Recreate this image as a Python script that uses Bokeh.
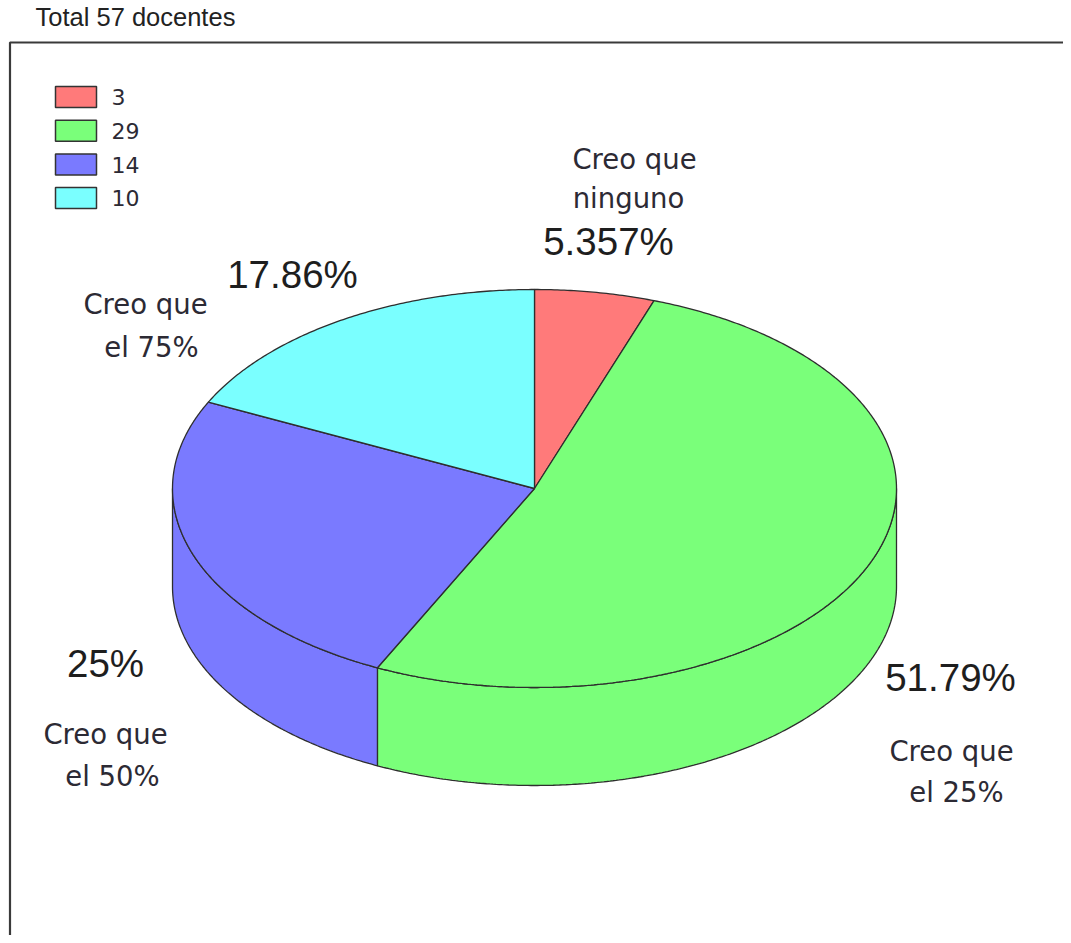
import numpy as np
from bokeh.plotting import figure
from bokeh.models import Range1d
from bokeh.embed import file_html
from bokeh.resources import INLINE
from bokeh.core.properties import value

# ---- data ----
title = "Total 57 docentes"
categories = ["Creo que\nninguno", "Creo que\nel 25%", "Creo que\nel 50%", "Creo que\nel 75%"]
counts = [3, 29, 14, 10]
colors = ["#FF7A7A", "#7AFF7A", "#7A7AFF", "#7AFFFF"]

# ---- layout ----
W, H = 1063, 935
X0, Y0 = 0, 0
p = figure(width=W, height=H, x_range=Range1d(X0, X0 + W), y_range=Range1d(Y0 + H, Y0),
           output_backend="svg", toolbar_location=None, min_border=0)
p.axis.visible = False
p.grid.visible = False
p.outline_line_color = None
p.background_fill_color = "white"

def by(baseline, size):
    # compensate the renderer's baseline placement
    return baseline - 0.42 * size

# frame
p.line([9.5, 9.5, 1200], [1100, 42, 42], line_color="#3a3a3a", line_width=2.2)

# title
TS = 25.5
p.text(x=[35], y=[by(27, TS)], text=[title], text_font=value("Liberation Sans"), text_font_size=f"{TS}px",
       text_align="left", text_baseline="alphabetic", text_color="#222222")

# pie geometry
cx, cy, rx, ry, depth = 534.0, 488.0, 362.0, 199.0, 98.0
total = float(sum(counts))
fracs = [c / total for c in counts]

def pt(theta_deg, dy=0.0):
    t = np.radians(theta_deg)
    return cx + rx * np.cos(t), cy - ry * np.sin(t) + dy

starts, ends = [], []
a = 90.0
for f in fracs:
    starts.append(a)
    a = a - f * 360.0
    ends.append(a)

# side faces (front half: angles in [-180, 0])
for s, e, col in zip(starts, ends, colors):
    for k in (-360.0, 0.0, 360.0):
        lo = max(e + k, -180.0)
        hi = min(s + k, 0.0)
        if hi > lo + 1e-6:
            th = np.linspace(lo, hi, max(3, int((hi - lo) * 2)))
            xt, yt = pt(th)
            xb, yb = pt(th[::-1], depth)
            xs = np.concatenate([xt, xb])
            ys = np.concatenate([yt, yb])
            p.patch(xs, ys, fill_color=col, line_color="#2e2e2e", line_width=1.3)

# top faces
for s, e, col in zip(starts, ends, colors):
    th = np.linspace(s, e, max(3, int((s - e) * 2)))
    xa, ya = pt(th)
    xs = np.concatenate([[cx], xa, [cx]])
    ys = np.concatenate([[cy], ya, [cy]])
    p.patch(xs, ys, fill_color=col, line_color="#2e2e2e", line_width=1.3)

# labels
pct_text = [f"{f*100:.4g}%" for f in fracs]
pct_pos = [(608, 257), (950, 693), (105, 679), (292, 290)]
cat_pos = [[(634, 170), (628, 209)], [(951, 762), (956, 803)],
           [(105, 745), (112, 787)], [(145, 315), (151, 358)]]

PS = 38.5
p.text(x=[q[0] for q in pct_pos], y=[by(q[1], PS) for q in pct_pos], text=pct_text,
       text_font=value("Liberation Sans"), text_font_size=f"{PS}px",
       text_align="center", text_baseline="alphabetic", text_color="#1e1e1e")

CS = 27.5
cx_l, cy_l, ct_l = [], [], []
for cat, lines_pos in zip(categories, cat_pos):
    for line, (lx, ly) in zip(cat.split("\n"), lines_pos):
        cx_l.append(lx); cy_l.append(by(ly, CS)); ct_l.append(line)
p.text(x=cx_l, y=cy_l, text=ct_l, text_font=value("DejaVu Sans"), text_font_size=f"{CS}px",
       text_align="center", text_baseline="alphabetic", text_color="#2c2a34")

# legend
LS = 22
box_tops = [86 + i * 33.7 for i in range(len(counts))]
p.quad(left=[55] * len(counts), right=[96] * len(counts), top=box_tops,
       bottom=[t + 21 for t in box_tops], fill_color=colors, line_color="#333333", line_width=1.5)
p.text(x=[111] * len(counts), y=[by(t + 20, LS) for t in box_tops], text=[str(c) for c in counts],
       text_font=value("DejaVu Sans"), text_font_size=f"{LS}px",
       text_align="left", text_baseline="alphabetic", text_color="#2c2a34")

open("out.html", "w").write(file_html(p, INLINE))
